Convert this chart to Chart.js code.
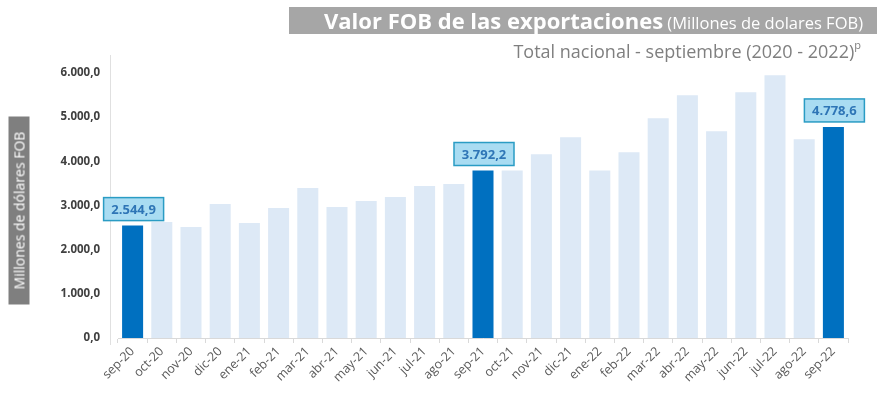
<!DOCTYPE html>
<html>
<head>
<meta charset="utf-8">
<script src="https://cdn.jsdelivr.net/npm/chart.js@4.4.0/dist/chart.umd.min.js"></script>
<style>
  html, body { margin: 0; padding: 0; background: #fff; }
  #wrap { position: relative; width: 887px; height: 397px; overflow: hidden; font-family: "Open Sans", sans-serif; }
  #chart { position: absolute; left: 0; top: 0; }
  .title-box {
    position: absolute; left: 289px; top: 7px; width: 588px; height: 27px;
    background: #a6a6a6; color: #fff; text-align: right; box-sizing: border-box;
    padding-right: 14px; line-height: 27px; white-space: nowrap;
  }
  .title-box b { font-size: 22px; font-weight: 700; }
  .title-box span { font-size: 16.5px; }
  .subtitle {
    position: absolute; right: 26px; top: 35px; color: #7f7f7f; font-size: 18px;
    line-height: 24px; white-space: nowrap;
  }
  .subtitle sup { font-size: 11px; position: relative; top: -2px; }
  .ytitle {
    position: absolute; left: -75px; top: 200px; width: 188px; height: 21px;
    background: #7f7f7f; color: #fff; font-size: 14px; line-height: 21px;
    text-align: center; transform: rotate(-90deg); white-space: nowrap;
  }
</style>
</head>
<body>
<div id="wrap">
  <canvas id="chart" width="887" height="397"></canvas>
  <div class="title-box"><b>Valor FOB de las exportaciones</b> <span>(Millones de dolares FOB)</span></div>
  <div class="subtitle">Total nacional - septiembre (2020 - 2022)<sup>p</sup></div>
  <div class="ytitle">Millones de dólares FOB</div>
</div>
<script>
// months shown on the x axis
const months = ['sep-20', 'oct-20', 'nov-20', 'dic-20', 'ene-21', 'feb-21', 'mar-21', 'abr-21',
  'may-21', 'jun-21', 'jul-21', 'ago-21', 'sep-21', 'oct-21', 'nov-21', 'dic-21', 'ene-22',
  'feb-22', 'mar-22', 'abr-22', 'may-22', 'jun-22', 'jul-22', 'ago-22', 'sep-22'];

// export value, millions of USD FOB
const values = [2544.9, 2624, 2511, 3032, 2602, 2941, 3394, 2964, 3100, 3190, 3439, 3484,
  3792.2, 3790, 4163, 4548, 3790, 4208, 4977, 5498, 4683, 5566, 5950, 4502, 4778.6];

const yTicks = [0, 1000, 2000, 3000, 4000, 5000, 6000];

const DARK = '#0070c0';
const LIGHT = '#dde9f6';

function fmt(v) {
  const parts = v.toFixed(1).split('.');
  const int = parts[0].replace(/\B(?=(\d{3})+(?!\d))/g, '.');
  return int + ',' + parts[1];
}

const isSep = m => m.startsWith('sep');

// boxed value labels on the september bars
const sepLabels = {
  id: 'sepLabels',
  afterDatasetsDraw(chart) {
    const ctx = chart.ctx;
    const meta = chart.getDatasetMeta(0);
    ctx.save();
    ctx.font = 'bold 13px "Open Sans", sans-serif';
    ctx.textAlign = 'center';
    ctx.textBaseline = 'middle';
    meta.data.forEach((bar, i) => {
      if (!isSep(months[i])) return;
      const w = 60, h = 23;
      const x = bar.x + 1, y = bar.y - 5 - h / 2;
      ctx.fillStyle = '#a9dcf2';
      ctx.strokeStyle = '#2a9cc4';
      ctx.lineWidth = 1.5;
      ctx.fillRect(x - w / 2, y - h / 2, w, h);
      ctx.strokeRect(x - w / 2, y - h / 2, w, h);
      ctx.fillStyle = '#2e75b6';
      ctx.fillText(fmt(values[i]), x, y + 1);
    });
    ctx.restore();
  }
};

// the light vertical line left of the plot
const yLine = {
  id: 'yLine',
  beforeDraw(chart) {
    const ctx = chart.ctx;
    ctx.save();
    ctx.strokeStyle = '#e0e0e0';
    ctx.lineWidth = 1;
    ctx.beginPath();
    ctx.moveTo(110.5, 55);
    ctx.lineTo(110.5, 345);
    ctx.stroke();
    ctx.restore();
  }
};

new Chart(document.getElementById('chart').getContext('2d'), {
  type: 'bar',
  data: {
    labels: months,
    datasets: [{
      data: values,
      backgroundColor: months.map(m => isSep(m) ? DARK : LIGHT),
      categoryPercentage: 1,
      barPercentage: 0.72
    }]
  },
  options: {
    responsive: false,
    animation: false,
    layout: { padding: { left: 0, right: 39, top: 73, bottom: 0 } },
    plugins: { legend: { display: false }, tooltip: { enabled: false } },
    scales: {
      x: {
        afterFit: s => { s.height = 59; },
        grid: { drawOnChartArea: false, color: '#d9d9d9', tickLength: 5, offset: true },
        border: { color: '#d9d9d9' },
        ticks: {
          maxRotation: 45, minRotation: 45, autoSkip: false, padding: 1,
          color: '#595959', font: { family: 'Open Sans', size: 12.5 }
        }
      },
      y: {
        min: 0, max: 6000,
        afterFit: s => { s.width = 118; },
        afterBuildTicks: s => { s.ticks = yTicks.map(v => ({ value: v })); },
        grid: { display: false },
        border: { display: false },
        ticks: {
          padding: 10, color: '#404040',
          font: { family: 'Open Sans', size: 11.5, weight: 'bold' },
          callback: v => fmt(v)
        }
      }
    }
  },
  plugins: [sepLabels, yLine]
});
</script>
</body>
</html>
